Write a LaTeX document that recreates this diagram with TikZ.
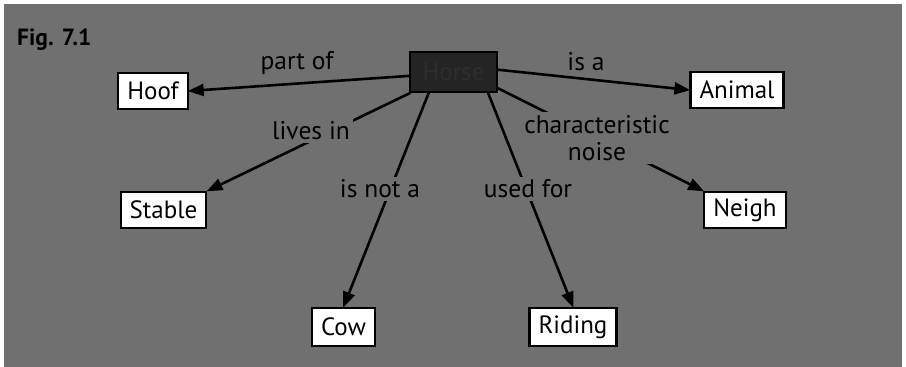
\documentclass[tikz,border=0pt]{standalone}
\usepackage{fontspec}
\setmainfont{PT Sans}
\usetikzlibrary{arrows.meta}
\definecolor{bg}{RGB}{112,112,112}
\definecolor{horsefill}{RGB}{36,36,36}
\definecolor{horsetext}{RGB}{46,46,46}
\tikzset{
  concept/.style={draw=black, line width=2.2pt, fill=white, minimum height=36pt,
    inner xsep=9pt, inner ysep=0pt, font=\fontsize{25}{27}\selectfont, text=black},
  linklabel/.style={fill=bg, inner sep=3pt, font=\fontsize{25.5}{27}\selectfont,
    text=black, align=center},
  freelabel/.style={inner sep=0pt, font=\fontsize{25.5}{27}\selectfont, text=black},
  link/.style={line width=2.6pt, black},
  arr/.style={link, -{Triangle[length=16pt,width=12pt]}, shorten >=-1pt},
}
\begin{document}
\begin{tikzpicture}[x=1pt,y=-1pt]
\useasboundingbox (0,0) rectangle (906,367);
\fill[white] (0,0) rectangle (906,367);
\fill[bg] (4,4) rectangle (902,367);

\node[font=\bfseries\fontsize{23.5}{25}\selectfont, text=black, anchor=west, inner sep=0pt] (fig) at (17,40) {Fig. 7.1};

\node[draw=black, line width=1.5pt, fill=horsefill, minimum width=87pt, minimum height=40pt,
  font=\fontsize{25}{27}\selectfont, text=horsetext] (horse) at (453.5,72) {Horse};

\node[concept] (hoof) at (153,91) {Hoof};
\node[concept] (animal) at (737,90) {Animal};
\node[concept] (stable) at (163.5,210) {Stable};
\node[concept] (neigh) at (745,210) {Neigh};
\node[concept, minimum height=38pt] (cow) at (343.5,327) {Cow};
\node[concept, minimum height=38pt] (riding) at (573,327) {Riding};

% labels not on the lines
\node[freelabel] (partof) at (297,63) {part of};
\node[freelabel] (isa) at (586,62) {is a};

\draw[arr] (horse.185) -- (hoof.east);
\draw[arr] (horse.3) -- (animal.west);
\draw[arr] (horse) -- (stable.north east);
\draw[arr] (horse.-140) -- (cow.north);
\draw[arr] (horse.-31) -- (riding.north);
\draw[arr] (horse.-20) -- (neigh.north west);

% labels lying on the lines
\node[linklabel] (livesin) at (311,131) {lives in};
\node[linklabel] (isnota) at (380,189) {is not a};
\node[linklabel] (usedfor) at (528,189) {used for};
\node[linklabel] (noise) at (597,138) {characteristic\\noise};
\end{tikzpicture}
\end{document}
